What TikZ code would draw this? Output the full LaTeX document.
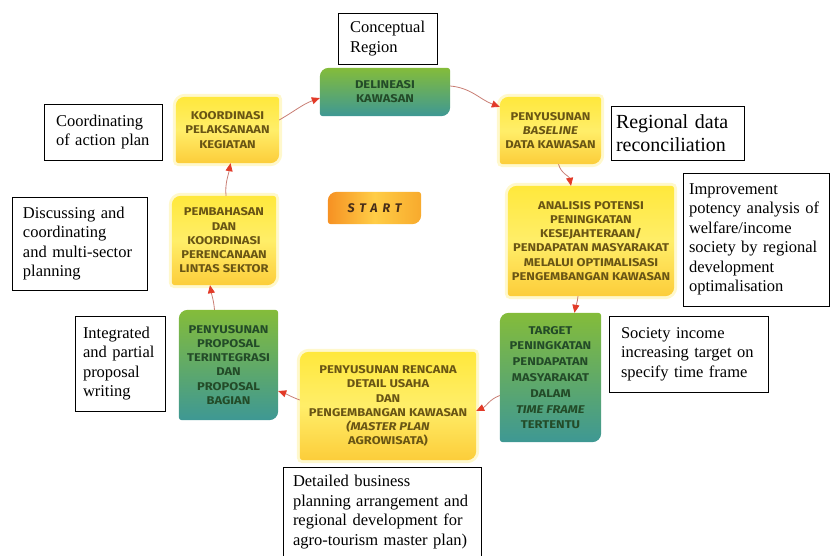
\documentclass[tikz,border=0pt]{standalone}
\usepackage{fontspec}
\setmainfont{Liberation Serif}
\newfontfamily\tilefont{Fira Sans}[UprightFont={* Bold}, ItalicFont={* Bold Italic}, UprightFeatures={FakeStretch=1.15}, ItalicFeatures={FakeStretch=1.15}]
\newfontfamily\startfont{Fira Sans}[UprightFont={* Bold Italic}, LetterSpace=40]
\usetikzlibrary{arrows.meta,backgrounds}
\definecolor{ytop}{RGB}{255,232,60}
\definecolor{ymid}{RGB}{255,238,105}
\definecolor{ybot}{RGB}{252,205,58}
\definecolor{gtop}{RGB}{132,188,58}
\definecolor{gbot}{RGB}{62,152,148}
\definecolor{ytext}{RGB}{105,85,20}
\definecolor{gtext}{RGB}{35,75,40}
\definecolor{linec}{RGB}{200,125,115}
\definecolor{tipc}{RGB}{226,58,40}
\definecolor{halo}{RGB}{255,244,170}
\definecolor{stL}{RGB}{246,145,35}
\definecolor{stM}{RGB}{255,205,70}
\definecolor{stR}{RGB}{248,170,45}
\definecolor{sttext}{RGB}{70,45,25}
\tikzset{
  tile/.style={font=\tilefont\fontsize{11.25}{14.2}\selectfont, align=center, inner sep=0pt},
  ytile/.style={tile, text=ytext},
  gtile/.style={tile, text=gtext},
  starttile/.style={font=\startfont\fontsize{12.5}{15}\selectfont, text=sttext, inner sep=0pt},
  note/.style={draw=black, line width=0.8pt, fill=white, inner xsep=12pt, inner ysep=0pt, align=left, font=\fontsize{16.5}{19.5}\selectfont},
  flow/.style={draw=linec, line width=0.8pt, -{Triangle[length=8pt,width=7pt,color=tipc]}},
  tileshape/.style={insert path={([yshift=-9pt]#1.north west) arc[start angle=180,end angle=90,radius=9pt] -- ([xshift=-3pt]#1.north east) arc[start angle=90,end angle=0,radius=3pt] -- ([yshift=9pt]#1.south east) arc[start angle=0,end angle=-90,radius=9pt] -- ([xshift=3pt]#1.south west) arc[start angle=270,end angle=180,radius=3pt] -- cycle}},
}
\begin{document}
\begin{tikzpicture}[x=1pt,y=1pt]
\useasboundingbox (0,0) rectangle (830,-556);
% process tiles
\node[gtile, minimum width=130pt, minimum height=48pt] (delin) at (385,-92) {DELINEASI\\KAWASAN};
\node[ytile, minimum width=103pt, minimum height=66pt] (koord) at (227.5,-130) {KOORDINASI\\PELAKSANAAN\\KEGIATAN};
\node[ytile, minimum width=101pt, minimum height=67pt] (base) at (550.5,-130.5) {PENYUSUNAN\\\textit{BASELINE}\\DATA KAWASAN};
\node[ytile, minimum width=166pt, minimum height=110pt] (anal) at (591,-241) {ANALISIS POTENSI\\PENINGKATAN\\KESEJAHTERAAN/\\PENDAPATAN MASYARAKAT\\MELALUI OPTIMALISASI\\PENGEMBANGAN KAWASAN};
\node[gtile, minimum width=101pt, minimum height=129pt, font=\tilefont\fontsize{11.25}{15.8}\selectfont] (target) at (550.5,-377.5) {TARGET\\PENINGKATAN\\PENDAPATAN\\MASYARAKAT\\DALAM\\\textit{TIME FRAME}\\TERTENTU};
\node[ytile, minimum width=176pt, minimum height=108pt] (renc) at (388,-406) {PENYUSUNAN RENCANA\\DETAIL USAHA\\DAN\\PENGEMBANGAN KAWASAN\\\textit{(MASTER PLAN}\\AGROWISATA)};
\node[gtile, minimum width=99pt, minimum height=110pt] (prop) at (228.5,-365) {PENYUSUNAN\\PROPOSAL\\TERINTEGRASI\\DAN\\PROPOSAL\\BAGIAN};
\node[ytile, minimum width=104pt, minimum height=89pt] (pemb) at (224,-240.5) {PEMBAHASAN\\DAN\\KOORDINASI\\PERENCANAAN\\LINTAS SEKTOR};
\node[starttile, minimum width=93pt, minimum height=32pt] (start) at (374.5,-208) {START};
\begin{pgfonlayer}{background}
  \foreach \n in {koord,base,anal,renc,pemb}{
    \path[draw=halo, line width=6pt, opacity=0.6, tileshape=\n];
    \path[top color=ytop, bottom color=ybot, middle color=ymid, tileshape=\n];
  }
  \foreach \n in {delin,target,prop}{
    \path[top color=gtop, bottom color=gbot, tileshape=\n];
  }
  \path[left color=stL, right color=stR, middle color=stM, tileshape=start];
\end{pgfonlayer}
% annotation notes
\node[note, text width=75pt, minimum height=51pt] (concept) at (387.5,-38.5) {Conceptual\\Region};
\node[note, text width=94pt, minimum height=56pt] (coord) at (103,-132) {Coordinating\\of action plan};
\node[note, inner xsep=5pt, text width=123pt, minimum height=54pt, font=\fontsize{20}{22.5}\selectfont] (regional) at (677.5,-133) {Regional data\\reconciliation};
\node[note, inner xsep=6pt, text width=134pt, minimum height=133pt] (improve) at (756,-239.5) {Improvement\\potency analysis of\\welfare/income\\society by regional\\development\\optimalisation};
\node[note, text width=135pt, minimum height=76pt] (society) at (688.5,-354) {Society income\\increasing target on\\specify time frame};
\node[note, inner xsep=11pt, text width=113pt, minimum height=93pt] (discuss) at (79.5,-243.5) {Discussing and\\coordinating\\and multi-sector\\planning};
\node[note, inner xsep=8pt, text width=74pt, minimum height=95pt] (integ) at (120,-363.5) {Integrated\\and partial\\proposal\\writing};
\node[note, inner xsep=10pt, text width=178pt, minimum height=90pt] (detail) at (382,-512) {Detailed business\\planning arrangement and\\regional development for\\agro-tourism master plan)};
% cycle connectors
\draw[flow] ([yshift=6pt]delin.east) to[out=-5,in=160] ([yshift=-10pt]base.north west);
\draw[flow] ([xshift=8pt]base.south) to[out=-75,in=100] ([xshift=-20pt]anal.north);
\draw[flow] ([xshift=-13pt]anal.south) to[out=-95,in=80] ([xshift=24pt]target.north);
\draw[flow] ([yshift=-18pt]target.west) to[out=200,in=25] ([yshift=-5pt]renc.east);
\draw[flow] ([yshift=6pt]renc.west) to[out=160,in=-20] ([yshift=-26pt]prop.east);
\draw[flow] ([xshift=-14pt]prop.north) to[out=95,in=-80] ([xshift=-14pt]pemb.south);
\draw[flow] ([xshift=2pt]pemb.north) to[out=95,in=-100] ([xshift=3pt]koord.south);
\draw[flow] ([yshift=10pt]koord.east) to[out=30,in=200] ([yshift=-6pt]delin.west);
\end{tikzpicture}
\end{document}
